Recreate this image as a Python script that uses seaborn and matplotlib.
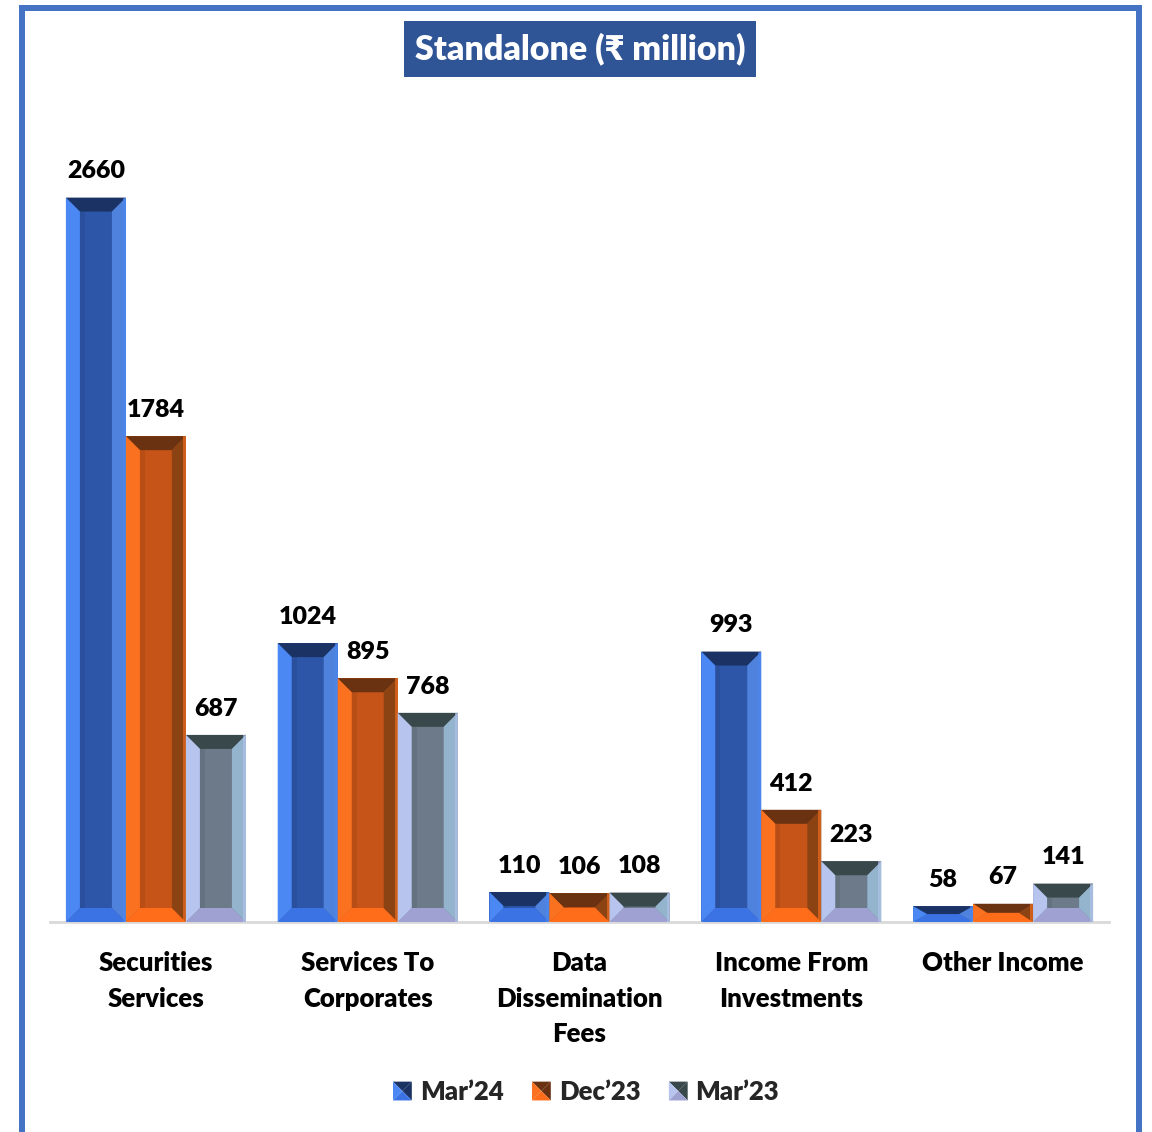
import numpy as np
import pandas as pd
import seaborn as sns
import matplotlib.pyplot as plt
from matplotlib.patches import Polygon, Rectangle
from matplotlib.legend_handler import HandlerBase

# ---- data -------------------------------------------------------------
categories = ["Securities\nServices", "Services To\nCorporates",
              "Data\nDissemination\nFees", "Income From\nInvestments",
              "Other Income"]
periods = ["Mar\u201924", "Dec\u201923", "Mar\u201923"]
mar24 = [2660, 1024, 110, 993, 58]
dec23 = [1784, 895, 106, 412, 67]
mar23 = [687, 768, 108, 223, 141]

# ---- bevel shading per series: face, top, left, right, bottom ---------
shades = {
    periods[0]: dict(face="#2d56a8", top="#1b3364", left="#4b88f4",
                     right="#4f82dc", bottom="#3b73e4"),
    periods[1]: dict(face="#c65418", top="#6a3211", left="#fa721f",
                     right="#8b4313", bottom="#ff6d1b"),
    periods[2]: dict(face="#6c7a8a", top="#39484b", left="#b6c4ee",
                     right="#93b4cc", bottom="#9fa1d2"),
}

df = pd.DataFrame({
    "category": np.repeat(categories, len(periods)),
    "period": periods * len(categories),
    "value": np.ravel(np.column_stack([mar24, dec23, mar23])),
})

sns.set_theme(style="white")
plt.rcParams["font.family"] = ["Lato", "Noto Sans", "DejaVu Sans"]
WEIGHT = "heavy"

W, H, DPI = 1152, 1132, 100
fig = plt.figure(figsize=(W / DPI, H / DPI), dpi=DPI)
ax = fig.add_axes([50 / W, 210 / H, 1059 / W, 817 / H])

sns.barplot(data=df, x="category", y="value", hue="period",
            hue_order=periods, order=categories,
            palette=[shades[p]["face"] for p in periods],
            width=0.85, gap=0, saturation=1, legend=False, ax=ax,
            edgecolor="none", linewidth=0)

ax.set_xlim(-0.5, 4.5)
ax.set_ylim(0, 3000)

# pixel -> data scale for the bevel depth
p0, p1 = ax.transData.transform([(0, 0), (1, 1)])
px_x = p1[0] - p0[0]
px_y = p1[1] - p0[1]
BEVEL = 14

for period, cont in zip(periods, ax.containers):
    s = shades[period]
    for bar in cont:
        x0 = bar.get_x()
        x1 = x0 + bar.get_width()
        y0 = bar.get_y()
        h = bar.get_height()
        y1 = y0 + h
        bx = BEVEL / px_x
        by = min(BEVEL, 0.5 * h * px_y) / px_y
        polys = [
            ([(x0, y1), (x1, y1), (x1 - bx, y1 - by), (x0 + bx, y1 - by)], s["top"]),
            ([(x0, y0), (x1, y0), (x1 - bx, y0 + by), (x0 + bx, y0 + by)], s["bottom"]),
            ([(x0, y0), (x0 + bx, y0 + by), (x0 + bx, y1 - by), (x0, y1)], s["left"]),
            ([(x1, y0), (x1 - bx, y0 + by), (x1 - bx, y1 - by), (x1, y1)], s["right"]),
        ]
        for pts, col in polys:
            ax.add_patch(Polygon(pts, closed=True, fc=col, ec="none", zorder=3))
        # soft shading where the left bevel meets the face
        sx = 5 / px_x
        ax.add_patch(Polygon([(x0 + bx, y0 + by), (x0 + bx + sx, y0 + by),
                              (x0 + bx + sx, y1 - by), (x0 + bx, y1 - by)],
                             fc=s["top"], ec="none", alpha=0.15, zorder=3))
        # thin highlight along the outer right edge
        hx = 3 / px_x
        ax.add_patch(Polygon([(x1 - hx, y0), (x1, y0), (x1, y1), (x1 - hx, y1)],
                             fc=s["left"], ec="none", alpha=0.6, zorder=3))
    ax.bar_label(cont, labels=[f"{v:.0f}" for v in cont.datavalues],
                 padding=11, fontsize=18, fontweight=WEIGHT, color="black")

for sp in ["top", "left", "right"]:
    ax.spines[sp].set_visible(False)
ax.spines["bottom"].set_color("#d9d9d9")
ax.spines["bottom"].set_linewidth(2)
ax.set_yticks([])
ax.set_xlabel("")
ax.set_ylabel("")
ax.tick_params(axis="x", length=0, pad=21)
ax.set_xticks(range(len(categories)))
ax.set_xticklabels(categories, fontsize=18.5, fontweight=WEIGHT,
                   color="black", linespacing=1.58, va="top")


# ---- legend with pyramid-shaded keys -----------------------------------
class BevelKey:
    def __init__(self, shade):
        self.shade = shade


class HandlerBevel(HandlerBase):
    def create_artists(self, legend, orig_handle, xdescent, ydescent,
                       width, height, fontsize, trans):
        s = orig_handle.shade
        side = height
        x0 = -xdescent + (width - side) / 2
        y0 = -ydescent
        x1, y1 = x0 + side, y0 + side
        cx, cy = (x0 + x1) / 2, (y0 + y1) / 2
        tris = [
            ([(x0, y1), (x1, y1), (cx, cy)], s["top"]),
            ([(x1, y0), (x1, y1), (cx, cy)], s["top"]),
            ([(x0, y0), (x0, y1), (cx, cy)], s["left"]),
            ([(x0, y0), (x1, y0), (cx, cy)], s["bottom"]),
        ]
        return [Polygon(p, closed=True, fc=c, ec="none", transform=trans)
                for p, c in tris]


handles = [BevelKey(shades[p]) for p in periods]
fig.legend(handles, periods, handler_map={BevelKey: HandlerBevel()},
           loc="center", bbox_to_anchor=(586 / W, 1 - 1092 / H),
           ncol=3, frameon=False, prop=dict(size=18.5, weight=WEIGHT),
           handlelength=0.75, handleheight=0.75, handletextpad=0.3,
           columnspacing=1.1)

# ---- title banner -------------------------------------------------------
fig.text(580 / W, 1 - 49 / H, "Standalone (\u20b9 million)", ha="center",
         va="center", color="white", fontsize=24.5, fontweight=WEIGHT,
         bbox=dict(boxstyle="square,pad=0.33", fc="#2f5597", ec="none"))

# ---- outer frame --------------------------------------------------------
fig.patches.append(Rectangle((21.5 / W, -0.05), (1138.5 - 21.5) / W,
                             1.05 - 7.5 / H, transform=fig.transFigure,
                             fill=False, ec="#4472c4", lw=4.3))

fig.savefig("out.png", dpi=DPI, facecolor="white")
